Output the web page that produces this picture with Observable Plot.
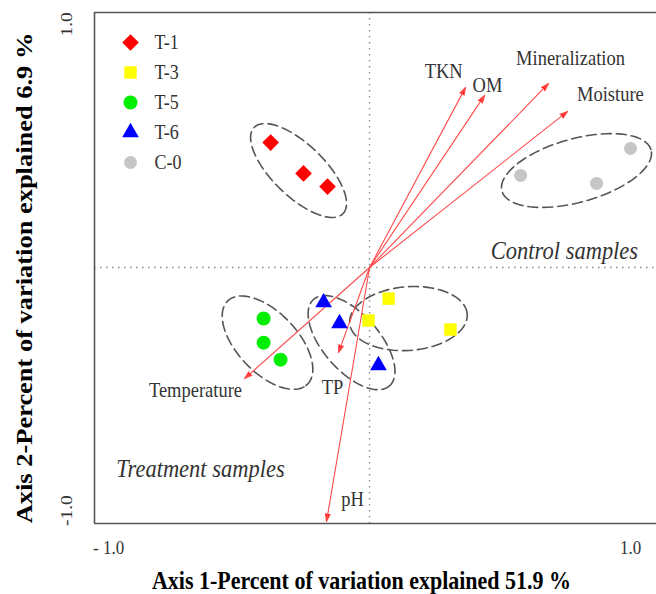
<!DOCTYPE html>
<html><head><meta charset="utf-8">
<script src="https://cdn.jsdelivr.net/npm/d3@7"></script>
<script src="https://cdn.jsdelivr.net/npm/@observablehq/plot@0.6"></script>
<style>body{margin:0;background:#fff} #chart svg{display:block}</style>
</head><body><div id="chart"></div>
<script>
// ---- data ----
const groups = ["T-1", "T-3", "T-5", "T-6", "C-0"];
const groupColors = ["#ff0000", "#ffff00", "#00ee00", "#0000ff", "#c6c6c6"];
const groupSymbols = ["diamond2", "square", "circle", "triangle", "circle"];
const groupRadius = [7.5, 7, 7, 6.2, 6.5];

const sampleGroup = ["T-1","T-1","T-1","T-3","T-3","T-3","T-5","T-5","T-5","T-6","T-6","T-6","C-0","C-0","C-0"];
const sampleX = [-0.379, -0.253, -0.161, 0.073, -0.004, 0.310, -0.406, -0.406, -0.341, -0.176, -0.115, 0.034, 0.579, 0.870, 1.000];
const sampleY = [0.514, 0.387, 0.333, -0.128, -0.218, -0.255, -0.210, -0.309, -0.379, -0.144, -0.230, -0.403, 0.379, 0.346, 0.490];

const variables = ["TKN", "OM", "Mineralization", "Moisture", "Temperature", "TP", "pH"];
const varX = [0.368, 0.441, 0.686, 0.759, -0.479, -0.119, -0.165];
const varY = [0.741, 0.708, 0.757, 0.642, -0.457, -0.350, -1.045];
const varLabelX = [0.284, 0.452, 0.770, 0.923, -0.667, -0.142, -0.065];
const varLabelY = [0.807, 0.749, 0.860, 0.712, -0.506, -0.494, -0.951];

const ellipseGroup = ["T-1", "T-5", "T-6", "T-3", "C-0"];
const ellipseCx = [-0.272, -0.391, -0.069, 0.149, 0.793];
const ellipseCy = [0.399, -0.309, -0.309, -0.210, 0.399];
const ellipseA = [0.246, 0.230, 0.230, 0.226, 0.298];
const ellipseB = [0.103, 0.119, 0.111, 0.131, 0.130];
const ellipseAngle = [-47, -50, -52, 5, 17];

const regionLabels = ["Control samples", "Treatment samples"];
const regionX = [0.747, -0.648];
const regionY = [0.070, -0.827];

const xTickValues = [-1, 1];
const xTickLabels = ["- 1.0", "1.0"];
const yTickValues = [-1, 1];
const yTickLabels = ["-1.0", "1.0"];
const xTitle = "Axis 1-Percent of variation explained 51.9 %";
const yTitle = "Axis 2-Percent of variation explained 6.9 %";

const xDomain = [-1.054, 1.0996];
const yDomain = [-1.053, 1.049];

// ---- derived tables ----
const samples = sampleX.map((x, i) => ({x, y: sampleY[i], g: sampleGroup[i]}));
const vars = variables.map((name, i) => ({name, x: varX[i], y: varY[i], lx: varLabelX[i], ly: varLabelY[i]}));
const ellipsePts = [];
ellipseGroup.forEach((g, k) => {
  const th = ellipseAngle[k] * Math.PI / 180;
  for (let j = 0; j < 90; j++) {
    const t = j / 90 * 2 * Math.PI;
    const u = ellipseA[k] * Math.cos(t), v = ellipseB[k] * Math.sin(t);
    ellipsePts.push({g, x: ellipseCx[k] + u * Math.cos(th) - v * Math.sin(th), y: ellipseCy[k] + u * Math.sin(th) + v * Math.cos(th)});
  }
});

const textColor = "#333";
const marks = [
  Plot.ruleX([0], {stroke: "#8a8a8a", strokeWidth: 1.4, strokeDasharray: "1.5,4.5"}),
  Plot.ruleY([0], {stroke: "#8a8a8a", strokeWidth: 1.4, strokeDasharray: "1.5,4.5"}),
  Plot.line(ellipsePts, {x: "x", y: "y", z: "g", curve: "linear-closed", stroke: "#555", strokeWidth: 1.6, strokeDasharray: "10,5"}),
  Plot.arrow(vars, {x1: () => 0, y1: () => 0, x2: "x", y2: "y", stroke: "#ff4a4a", fill: "#ff1a1a", strokeWidth: 1.1, headLength: 11, headAngle: 34}),
  Plot.text(vars, {x: "lx", y: "ly", text: "name", fontSize: 18.5, fill: textColor}),
  Plot.text(regionLabels, {x: (d, i) => regionX[i], y: (d, i) => regionY[i], text: d => d, fontSize: 22.5, fontStyle: "italic", fill: textColor}),
];
groups.forEach((g, i) => {
  marks.push(Plot.dot(samples.filter(s => s.g === g), {x: "x", y: "y", symbol: () => groupSymbols[i], fill: groupColors[i], r: groupRadius[i]}));
  marks.push(Plot.dot([g], {frameAnchor: "top-left", dx: 36, dy: 30 + 30 * i, symbol: () => groupSymbols[i], fill: groupColors[i], r: groupRadius[i]}));
  marks.push(Plot.text([g], {frameAnchor: "top-left", dx: 60, dy: 30 + 30 * i, text: d => d, textAnchor: "start", lineAnchor: "middle", fontSize: 18, fill: textColor}));
});
marks.push(
  Plot.text(xTickValues, {x: d => d, text: (d, i) => xTickLabels[i], frameAnchor: "bottom", dy: 24, textAnchor: "middle", lineAnchor: "middle", fontSize: 17, fill: textColor}),
  Plot.text(yTickValues, {y: d => d, text: (d, i) => yTickLabels[i], frameAnchor: "left", dx: -28, rotate: -90, textAnchor: "middle", lineAnchor: "middle", fontSize: 17, fill: textColor}),
  Plot.text([xTitle], {frameAnchor: "bottom", dx: -14, dy: 57, text: d => d, textAnchor: "middle", lineAnchor: "middle", fontSize: 22, fontWeight: "bold", fill: "#000"}),
  Plot.text([yTitle], {frameAnchor: "left", dx: -70, dy: 10, rotate: -90, text: d => d, textAnchor: "middle", lineAnchor: "middle", fontSize: 23, fontWeight: "bold", fill: "#000"}),
  Plot.ruleX([xDomain[0]], {stroke: "#555", strokeWidth: 1.6}),
  Plot.ruleY(yDomain, {stroke: "#555", strokeWidth: 1.6})
);

const chart = Plot.plot({
  width: 656, height: 594,
  marginLeft: 94, marginTop: 12, marginRight: 0, marginBottom: 71,
  x: {domain: xDomain, axis: null},
  y: {domain: yDomain, axis: null},
  symbol: {type: "identity"},
  style: {fontFamily: "'Liberation Serif', 'Times New Roman', serif", background: "#fff", color: "#333"},
  marks
});

// vertical stretch of text to match the reference's aspect
const S = 1.15;
chart.querySelectorAll("text").forEach(el => {
  const t = el.getAttribute("transform") || "";
  const m = t.match(/^translate\([^)]*\)/);
  if (m) el.setAttribute("transform", m[0] + ` scale(1,${S})` + t.slice(m[0].length));
});
document.getElementById("chart").appendChild(chart);
</script></body></html>
